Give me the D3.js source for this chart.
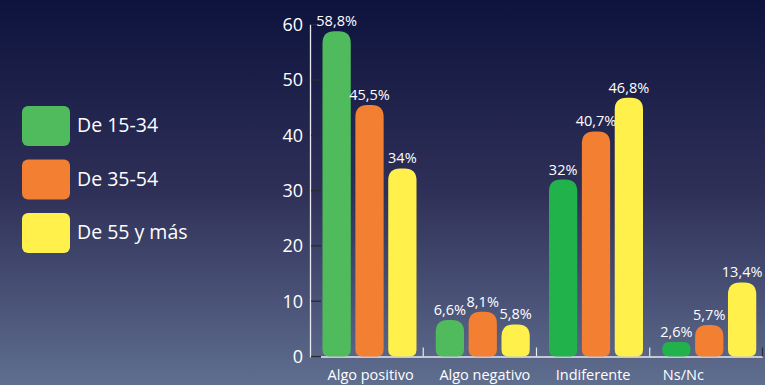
<!DOCTYPE html>
<html><head><meta charset="utf-8">
<script src="https://cdn.jsdelivr.net/npm/d3@7"></script>
<style>html,body{margin:0;padding:0;overflow:hidden;background:#1a1c40}</style>
</head><body>
<svg id="c" width="765" height="385"></svg>
<script>
const categories = ["Algo positivo", "Algo negativo", "Indiferente", "Ns/Nc"];
const seriesNames = ["De 15-34", "De 35-54", "De 55 y más"];
const serie1534 = [58.8, 6.6, 32, 2.6];
const serie3554 = [45.5, 8.1, 40.7, 5.7];
const serie55 = [34, 5.8, 46.8, 13.4];
const valueLabels = [
  ["58,8%", "6,6%", "32%", "2,6%"],
  ["45,5%", "8,1%", "40,7%", "5,7%"],
  ["34%", "5,8%", "46,8%", "13,4%"]
];
const yTicks = [0, 10, 20, 30, 40, 50, 60];

const series = [serie1534, serie3554, serie55];
const colors = ["#50bb5c", "#f37f32", "#fff04c"];
const greenDark = "#22b24c";
const catLabelDx = [4, 5, 0, -23];

const svg = d3.select("#c");
const defs = svg.append("defs");
const grad = defs.append("linearGradient").attr("id","bg").attr("x1",0).attr("y1",0).attr("x2",0).attr("y2",1);
grad.append("stop").attr("offset","0%").attr("stop-color","#0d133d");
grad.append("stop").attr("offset","50%").attr("stop-color","#2f3058");
grad.append("stop").attr("offset","100%").attr("stop-color","#5f6e8f");
svg.append("rect").attr("width",765).attr("height",385).attr("fill","url(#bg)");

const font = "'Open Sans', sans-serif";
const y = d3.scaleLinear().domain([0, 60]).range([356.5, 24.7]);
const x0 = d3.scaleBand().domain(categories).range([310, 763]).padding(0);
const x1 = d3.scaleBand().domain(d3.range(3)).range([0, 94]).paddingInner(0.14).paddingOuter(0);

// axes
const axisG = svg.append("g");
axisG.append("line").attr("x1",310.5).attr("x2",310.5).attr("y1",y(60)).attr("y2",y(0)+1)
  .attr("stroke","#e8e8ee").attr("stroke-width",1.3);
yTicks.forEach(t => {
  axisG.append("line").attr("x1",311).attr("x2",321).attr("y1",y(t)).attr("y2",y(t))
    .attr("stroke","#2a2a30").attr("stroke-width",1.3);
  axisG.append("text").attr("x",303).attr("y",y(t)).attr("dy","0.36em")
    .attr("text-anchor","end").attr("fill","#ffffff").attr("font-family",font)
    .attr("font-size",18).text(t);
});
axisG.append("line").attr("x1",321).attr("x2",763).attr("y1",y(0)+0.5).attr("y2",y(0)+0.5)
  .attr("stroke","#e8e8ee").attr("stroke-width",1.3);
categories.forEach((c,i) => {
  if (i === 0) return;
  const xx = x0(c);
  axisG.append("line").attr("x1",xx).attr("x2",xx).attr("y1",y(0)-9).attr("y2",y(0))
    .attr("stroke","#e8e8ee").attr("stroke-width",1.2);
});
axisG.append("line").attr("x1",762.5).attr("x2",762.5).attr("y1",y(0)-9).attr("y2",y(0))
  .attr("stroke","#2a2a30").attr("stroke-width",1.2);

function barPath(x, yTop, w, h) {
  const rt = Math.min(12, w/2, h/2), rb = Math.min(7, h/2);
  const b = yTop + h;
  return `M${x},${yTop+rt} Q${x},${yTop} ${x+rt},${yTop} L${x+w-rt},${yTop} Q${x+w},${yTop} ${x+w},${yTop+rt}` +
    ` L${x+w},${b-rb} Q${x+w},${b} ${x+w-rb},${b} L${x+rb},${b} Q${x},${b} ${x},${b-rb} Z`;
}

const groupOffset = 12.5;
series.forEach((vals, s) => {
  const g = svg.append("g");
  vals.forEach((v, i) => {
    const bx = x0(categories[i]) + groupOffset + x1(s);
    const top = y(v);
    const h = y(0) - top;
    let col = colors[s];
    if (s === 0 && i >= 2) col = greenDark;
    g.append("path").attr("d", barPath(bx, top, x1.bandwidth(), h)).attr("fill", col);
    g.append("text").attr("x", bx + x1.bandwidth()/2).attr("y", top - 5)
      .attr("text-anchor","middle").attr("fill","#ffffff").attr("font-family",font)
      .attr("font-size",14.5).text(valueLabels[s][i]);
  });
});

categories.forEach((c,i) => {
  svg.append("text").attr("x", x0(c) + x0.bandwidth()/2 + catLabelDx[i]).attr("y", 380)
    .attr("text-anchor","middle").attr("fill","#ffffff").attr("font-family",font)
    .attr("font-size",14.5).text(c);
});

// legend
seriesNames.forEach((n, s) => {
  const ly = 106 + s * 53.5;
  svg.append("rect").attr("x",22).attr("y",ly).attr("width",48).attr("height",40)
    .attr("rx",6).attr("fill",colors[s]);
  svg.append("text").attr("x",77).attr("y",ly+19).attr("dy","0.36em")
    .attr("fill","#ffffff").attr("font-family",font).attr("font-size",19.5).text(n);
});
</script>
</body></html>
